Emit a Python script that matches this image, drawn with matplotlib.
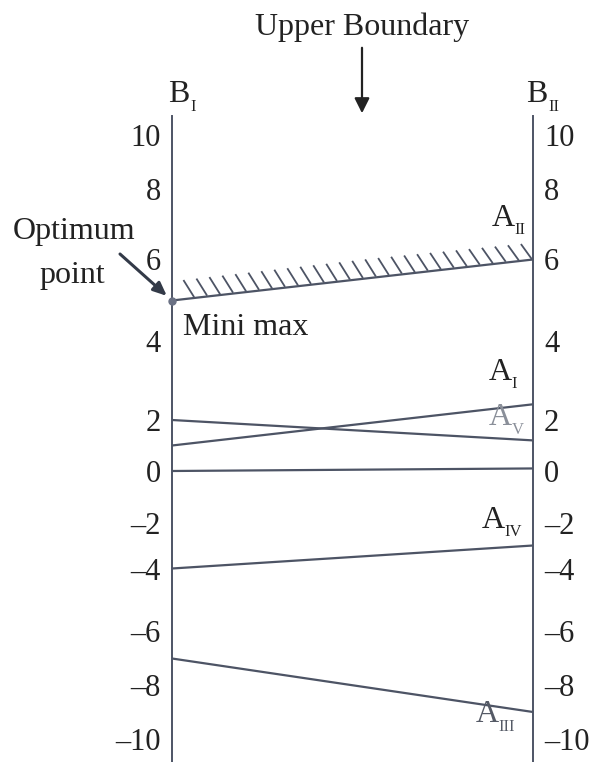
import numpy as np
import matplotlib
matplotlib.use("Agg")
import matplotlib.pyplot as plt
from matplotlib.patches import FancyArrowPatch

plt.rcParams['font.family'] = ['Liberation Serif', 'DejaVu Serif']

# payoff of each A strategy against B_I (left axis) and B_II (right axis)
strategies = ['A_II', 'A_I', 'A_V', 'A_0', 'A_IV', 'A_III']
vals_BI = [5, 1, 2, 0, -4, -7]
vals_BII = [6, 2.4, 1.2, 0.1, -3, -9]
tick_vals = [10, 8, 6, 4, 2, 0, -2, -4, -6, -8, -10]
tick_labels = [str(v).replace('-', '\u2013') for v in tick_vals]

W, H = 605, 762
col = '#4d5465'
txt = '#222222'

# hand-drawn scale: the graduations are not evenly spaced on the page
scale_v = np.array([-12, -10, -8, -6, -4, -2, 0, 2, 4, 6, 8, 10, 12])
scale_px = np.array([791.5, 738.5, 685.5, 631.5, 568.5, 522.5, 471, 420,
                     341.5, 259.5, 188.5, 134.5, 80.5])


def val_to_px(v):
    return np.interp(v, scale_v, scale_px)


def px_to_val(p):
    return np.interp(p, scale_px[::-1], scale_v[::-1])


def fwd(v):
    return -val_to_px(v)


def inv(t):
    return px_to_val(-np.asarray(t))


top_px, bot_px = 116, 762
x_left, x_right = 172, 533

fig = plt.figure(figsize=(W / 100, H / 100), dpi=100)
ax = fig.add_axes([x_left / W, 1 - bot_px / H, (x_right - x_left) / W,
                   (bot_px - top_px) / H])
ax.set_yscale('function', functions=(fwd, inv))
ax.set_xlim(0, 1)
ax.set_ylim(float(px_to_val(bot_px)), float(px_to_val(top_px)))
for s in ['top', 'bottom']:
    ax.spines[s].set_visible(False)
for s in ['left', 'right']:
    ax.spines[s].set_color(col)
    ax.spines[s].set_linewidth(1.4)
ax.set_xticks([])
ax.set_yticks(tick_vals)
ax.set_yticklabels(tick_labels)
ax.yaxis.set_minor_locator(matplotlib.ticker.NullLocator())
ax.tick_params(axis='y', which='both', length=0, pad=8, labelsize=22,
               labelleft=True, labelright=True, colors=txt)

x = np.array([0.0, 1.0])
for name, a, b in zip(strategies, vals_BI, vals_BII):
    ax.plot(x, [a, b], color=col, lw=1.6, solid_capstyle='butt')

# hatching on top of the upper boundary (A_II)
a2, b2 = vals_BI[0], vals_BII[0]
for hx in np.linspace(0.06, 0.995, 27):
    hy = a2 + (b2 - a2) * hx
    ax.plot([hx - 0.027, hx], [hy + 0.42, hy + 0.04], color=col, lw=1.3)

# minimax point
ax.plot([0], [a2], 'o', color='#6a7184', ms=5, clip_on=False, zorder=5)
ax.text(0.03, a2 - 0.3, 'Mini max', fontsize=23, va='top', ha='left',
        color=txt)


def sub_label(px, py, base, sub, color=txt, size=23):
    # letter with a small roman-numeral subscript, placed in page pixels
    t = fig.text(px / W, 1 - py / H, base, fontsize=size, ha='left',
                 va='center', color=color)
    fig.text((px + 0.70 * size * 1.39) / W, 1 - (py + 12) / H, sub,
             fontsize=size * 0.52, ha='left', va='center', color=color)
    return t


sub_label(168, 95, 'B', 'I')
sub_label(526, 95, 'B', 'II')
sub_label(492, 218, 'A', 'II')
sub_label(489, 372, 'A', 'I')
sub_label(489, 418, 'A', 'V', color='#8a8f99')
sub_label(482, 520, 'A', 'IV')
sub_label(476, 715, 'A', 'III', color='#555a66')

fig.text(362 / W, 1 - 27 / H, 'Upper Boundary', fontsize=23, ha='center',
         va='center', color=txt)
fig.add_artist(FancyArrowPatch(
    (362 / W, 1 - 45 / H), (362 / W, 1 - 116 / H), transform=fig.transFigure,
    arrowstyle='-|>,head_length=9,head_width=4.5', color=txt, lw=1.6))

fig.text(74 / W, 1 - 232 / H, 'Optimum', fontsize=23, ha='center',
         va='center', color=txt)
fig.text(72 / W, 1 - 276 / H, 'point', fontsize=23, ha='center',
         va='center', color=txt)
ax.annotate('', xy=(0, a2), xycoords='data',
            xytext=(120 / W, 1 - 254 / H), textcoords='figure fraction',
            arrowprops=dict(arrowstyle='-|>,head_length=0.8,head_width=0.35',
                            color='#333a48', lw=2.2, shrinkA=0, shrinkB=5))

fig.savefig('out.png', dpi=100, facecolor='white')
